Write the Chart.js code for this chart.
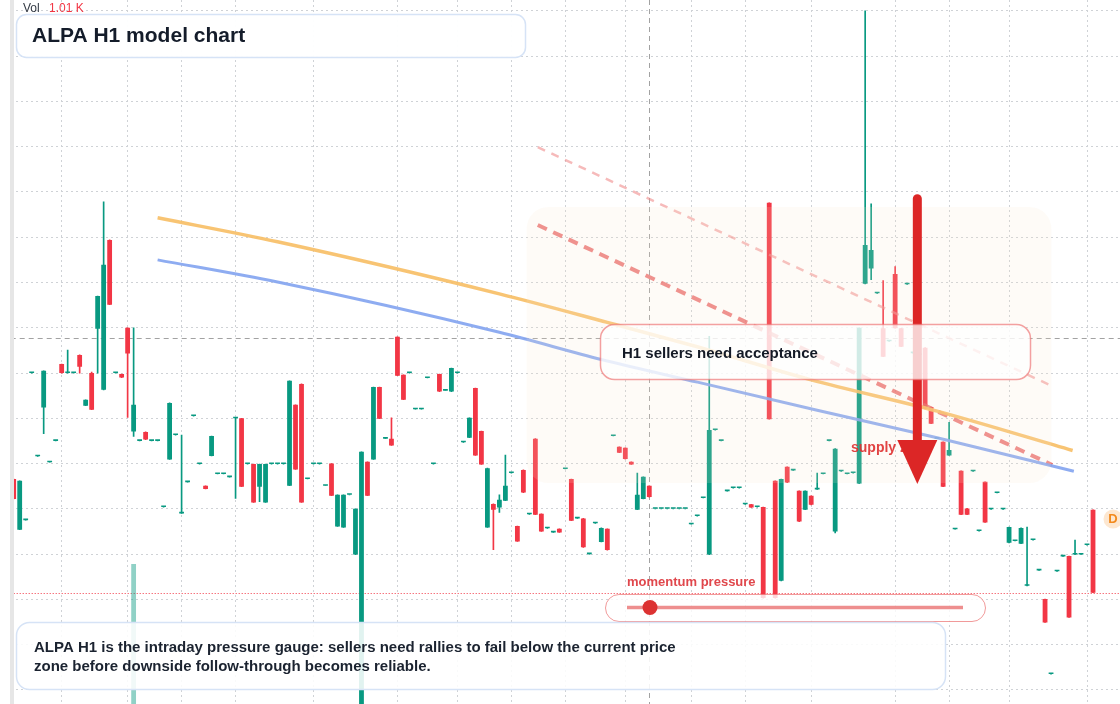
<!DOCTYPE html>
<html>
<head>
<meta charset="utf-8">
<title>ALPA H1 model chart</title>
<script src="https://cdn.jsdelivr.net/npm/chart.js@4.4.1/dist/chart.umd.min.js"></script>
<style>
  html, body { margin: 0; padding: 0; background: #ffffff; }
  #wrap { position: relative; width: 1120px; height: 704px; overflow: hidden; }
</style>
</head>
<body>
<div id="wrap"><canvas id="chart"></canvas></div>
<script>
// hourly bars, oldest first
const categories = Array.from({ length: 185 }, (_, i) => 'H' + (i + 1));

const opens = [
  104.66, 103.54, 103.75, 107.00, 105.16, 106.24, 105.03, 105.50, 107.20, 107.00,
  107.00, 107.40, 106.28, 107.00, 107.98, 106.63, 109.94, 107.00, 106.98, 108.00,
  105.71, 105.50, 105.70, 105.50, 105.50, 104.04, 105.09, 105.63, 103.90, 104.59,
  106.05, 104.99, 104.51, 105.17, 104.77, 104.77, 104.70, 106.00, 106.00, 104.99,
  104.99, 104.49, 104.14, 104.99, 104.99, 104.99, 104.51, 106.30, 106.76, 104.66,
  104.99, 104.99, 104.51, 105.00, 103.61, 103.59, 104.31, 102.99, 99.12, 105.04,
  105.09, 106.69, 105.55, 105.55, 107.80, 106.96, 107.00, 106.20, 106.20, 106.89,
  104.99, 106.98, 106.61, 106.59, 107.00, 105.47, 105.57, 106.67, 105.72, 103.59,
  104.11, 104.03, 104.18, 104.79, 103.62, 104.86, 103.88, 105.55, 103.89, 103.57,
  103.48, 103.56, 104.88, 104.66, 103.79, 103.79, 103.00, 103.68, 103.27, 103.56,
  105.61, 105.37, 105.35, 105.04, 103.98, 104.22, 104.51, 104.00, 104.00, 104.00,
  104.00, 104.00, 104.00, 103.66, 103.84, 104.24, 102.99, 105.74, 105.50, 104.39,
  104.46, 104.46, 104.10, 104.10, 104.04, 104.04, 110.76, 104.62, 102.41, 104.93,
  104.85, 104.40, 103.98, 104.29, 104.43, 104.77, 105.50, 103.50, 104.83, 104.77,
  104.79, 104.56, 108.97, 109.31, 108.76, 107.99, 107.70, 109.19, 107.99, 108.96,
  107.44, 107.40, 107.56, 106.25, 105.55, 105.48, 105.18, 103.55, 104.84, 104.01,
  104.83, 103.51, 104.60, 103.99, 104.35, 103.99, 103.25, 103.29, 103.23, 102.30,
  103.31, 102.64, 102.01, 100.35, 102.62, 102.95, 102.96, 102.99, 102.99, 103.20,
  103.98
];
const highs = [
  104.66, 104.62, 103.75, 107.00, 105.16, 107.05, 105.03, 105.50, 107.20, 107.51,
  107.00, 107.40, 106.41, 107.02, 108.70, 110.78, 109.94, 107.00, 106.98, 108.00,
  108.00, 105.50, 105.70, 105.50, 105.50, 104.04, 106.34, 105.63, 105.63, 104.59,
  106.05, 104.99, 104.51, 105.61, 104.77, 104.77, 104.70, 106.00, 106.00, 104.99,
  104.99, 104.99, 104.99, 104.99, 104.99, 104.99, 106.83, 106.30, 106.76, 104.66,
  104.99, 104.99, 104.51, 105.00, 104.31, 104.31, 104.31, 104.00, 105.26, 105.04,
  106.69, 106.69, 105.55, 106.01, 107.80, 106.96, 107.00, 106.20, 106.20, 106.89,
  104.99, 106.98, 106.61, 107.11, 107.00, 105.47, 106.01, 106.67, 105.72, 104.90,
  104.11, 104.31, 105.19, 104.79, 103.62, 104.86, 103.88, 105.55, 103.89, 103.57,
  103.48, 103.56, 104.88, 104.66, 103.79, 103.79, 103.00, 103.68, 103.58, 103.56,
  105.61, 105.37, 105.35, 105.04, 104.79, 104.71, 104.51, 104.00, 104.00, 104.00,
  104.00, 104.00, 104.00, 103.66, 103.84, 104.24, 107.81, 105.74, 105.50, 104.39,
  104.46, 104.46, 104.10, 104.10, 104.04, 104.04, 110.76, 104.62, 104.66, 104.93,
  104.85, 104.40, 104.40, 104.29, 104.79, 104.77, 105.50, 105.33, 104.83, 104.77,
  104.79, 108.00, 115.00, 110.74, 108.76, 109.04, 107.70, 109.35, 107.99, 108.96,
  107.44, 107.40, 107.56, 106.25, 105.55, 105.48, 105.91, 103.55, 104.84, 104.01,
  104.83, 103.51, 104.60, 103.99, 104.35, 103.99, 103.60, 103.29, 103.58, 103.60,
  103.31, 102.64, 102.01, 100.35, 102.62, 102.95, 102.96, 103.31, 102.99, 103.20,
  103.98
];
const lows = [
  104.22, 103.54, 103.75, 107.00, 105.16, 105.66, 105.03, 105.50, 107.00, 107.00,
  107.00, 107.00, 106.28, 106.19, 107.00, 106.63, 108.51, 107.00, 106.90, 106.02,
  105.60, 105.50, 105.53, 105.50, 105.50, 104.04, 105.09, 105.63, 103.90, 104.59,
  106.05, 104.99, 104.44, 105.17, 104.77, 104.77, 104.70, 104.23, 104.49, 104.99,
  104.14, 104.16, 104.14, 104.99, 104.99, 104.99, 104.51, 104.87, 104.14, 104.66,
  104.99, 104.99, 104.51, 104.29, 103.61, 103.59, 104.31, 102.99, 99.12, 104.29,
  105.09, 105.99, 105.55, 105.40, 106.94, 106.41, 107.00, 106.20, 106.20, 106.89,
  104.99, 106.59, 106.61, 106.59, 107.00, 105.47, 105.57, 105.18, 104.98, 103.59,
  103.10, 103.92, 104.18, 104.79, 103.28, 104.36, 103.88, 103.87, 103.50, 103.57,
  103.48, 103.48, 104.88, 103.74, 103.79, 103.15, 103.00, 103.68, 103.27, 103.09,
  105.61, 105.24, 105.10, 104.98, 103.98, 104.22, 104.26, 104.00, 104.00, 104.00,
  104.00, 104.00, 104.00, 103.66, 103.84, 104.24, 102.99, 105.74, 105.50, 104.39,
  104.46, 104.46, 104.10, 104.03, 104.04, 102.03, 105.98, 102.03, 102.41, 104.58,
  104.85, 103.72, 103.98, 104.09, 104.43, 104.77, 105.50, 103.47, 104.83, 104.77,
  104.79, 104.56, 108.97, 109.06, 108.76, 107.36, 107.70, 107.99, 107.58, 108.96,
  107.44, 107.40, 106.21, 105.88, 105.55, 104.49, 105.18, 103.55, 103.87, 103.87,
  104.83, 103.51, 103.70, 103.99, 104.35, 103.99, 103.25, 103.29, 103.23, 102.30,
  103.31, 102.64, 101.49, 100.35, 102.62, 102.95, 101.60, 102.99, 102.99, 103.20,
  102.15
];
const closes = [
  104.22, 104.62, 103.75, 107.00, 105.16, 107.05, 105.03, 105.50, 107.00, 107.00,
  107.00, 107.14, 106.41, 106.19, 108.70, 109.39, 108.51, 107.00, 106.90, 107.43,
  106.30, 105.50, 105.53, 105.50, 105.50, 104.04, 106.34, 105.63, 103.90, 104.59,
  106.05, 104.99, 104.44, 105.61, 104.77, 104.77, 104.70, 106.00, 104.49, 104.99,
  104.14, 104.99, 104.99, 104.99, 104.99, 104.99, 106.83, 104.87, 104.14, 104.66,
  104.99, 104.99, 104.51, 104.29, 104.31, 104.31, 104.31, 104.00, 105.26, 104.29,
  106.69, 105.99, 105.55, 105.40, 106.94, 106.41, 107.00, 106.20, 106.20, 106.89,
  104.99, 106.59, 106.61, 107.11, 107.00, 105.47, 106.01, 105.18, 104.98, 104.90,
  103.98, 104.20, 104.51, 104.79, 103.28, 104.36, 103.88, 103.87, 103.50, 103.57,
  103.48, 103.48, 104.88, 103.74, 103.79, 103.15, 103.00, 103.68, 103.58, 103.09,
  105.61, 105.24, 105.10, 104.98, 104.31, 104.71, 104.26, 104.00, 104.00, 104.00,
  104.00, 104.00, 104.00, 103.66, 103.84, 104.24, 105.74, 105.74, 105.50, 104.39,
  104.46, 104.46, 104.10, 104.03, 104.04, 102.03, 105.98, 102.03, 104.66, 104.58,
  104.85, 103.72, 104.40, 104.09, 104.43, 104.77, 105.50, 105.33, 104.83, 104.77,
  104.79, 108.00, 109.83, 109.72, 108.76, 107.36, 107.70, 107.99, 107.58, 108.96,
  107.44, 107.40, 106.21, 105.88, 105.55, 104.49, 105.30, 103.55, 103.87, 103.87,
  104.83, 103.51, 103.70, 103.99, 104.35, 103.99, 103.60, 103.29, 103.58, 102.30,
  103.31, 102.64, 101.49, 100.35, 102.62, 102.95, 101.60, 102.99, 102.99, 103.20,
  102.15
];

// the one volume bar that reaches into view (thousands)
const volumeBars = [20];
const volumeK = [19.9];

// model curves, read at bar positions
const orangeBars = [24, 44, 81, 99, 114, 133, 154, 176.6];
const orangeLine = [110.43, 109.90, 108.75, 108.12, 107.58, 106.85, 106.16, 105.29];
const blueBars = [24, 44, 81, 98, 114, 134, 154, 176.8];
const blueLine = [109.50, 109.01, 107.90, 107.30, 106.80, 106.18, 105.57, 104.83];
const sellBars = [87.4, 173.2];
const sellLine = [110.27, 104.97];
const sellFaintBars = [87.4, 173.05];
const sellFaintLine = [111.99, 106.72];

// supply zone and arrow (bars / prices)
const zoneBars = [85.55, 173.05];
const zonePrices = [104.57, 110.67];
const arrowBar = 150.7;
const arrowPrices = [110.94, 105.52, 104.55]; // shaft top, head base, tip

const crossBar = 106;
const crossPrice = 107.78;
const gridBars = [8, 19, 28, 37, 50, 64, 74, 83, 92, 102, 113, 122, 133, 147, 156, 166, 179];

const UP = '#089981';
const DOWN = '#f23645';
const FONT = '"Liberation Sans", Arial, sans-serif';

const candleColors = closes.map((c, i) => (c >= opens[i] ? UP : DOWN));
const toPoints = (xs, ys) => xs.map((x, i) => ({ x: x, y: ys[i] }));

function roundBox(ctx, x, y, w, h, r, fill, stroke, lw) {
  ctx.beginPath();
  ctx.roundRect(x, y, w, h, r);
  if (fill) { ctx.fillStyle = fill; ctx.fill(); }
  if (stroke) { ctx.lineWidth = lw || 1; ctx.strokeStyle = stroke; ctx.stroke(); }
}

const overlay = {
  id: 'overlay',
  beforeDatasetsDraw(chart) {
    const { ctx, chartArea: a, scales } = chart;
    ctx.save();
    ctx.lineWidth = 1;
    ctx.strokeStyle = '#a2a2a2';
    ctx.setLineDash([5, 4]);
    const cx = Math.round(scales.x.getPixelForValue(crossBar)) + 0.5;
    ctx.beginPath(); ctx.moveTo(cx, a.top); ctx.lineTo(cx, a.bottom); ctx.stroke();
    const cy = Math.round(scales.y.getPixelForValue(crossPrice)) + 0.5;
    ctx.beginPath(); ctx.moveTo(a.left, cy); ctx.lineTo(a.right, cy); ctx.stroke();
    // last price
    ctx.strokeStyle = DOWN;
    ctx.setLineDash([1, 2]);
    const py = Math.round(scales.y.getPixelForValue(closes[closes.length - 1])) + 0.5;
    ctx.beginPath(); ctx.moveTo(a.left, py); ctx.lineTo(a.right, py); ctx.stroke();
    ctx.restore();
  },
  afterDatasetsDraw(chart) {
    const { ctx, chartArea: a, scales } = chart;
    const xl = scales.xl, y = scales.y;
    ctx.save();

    // supply zone
    const zx0 = xl.getPixelForValue(zoneBars[0]);
    const zx1 = xl.getPixelForValue(zoneBars[1]);
    const zy0 = y.getPixelForValue(zonePrices[1]);
    const zy1 = y.getPixelForValue(zonePrices[0]);
    roundBox(ctx, zx0, zy0, zx1 - zx0, zy1 - zy0, 22, 'rgba(248, 228, 205, 0.16)');

    ctx.font = 'bold 14px ' + FONT;
    ctx.textBaseline = 'middle';
    ctx.fillStyle = 'rgba(222, 48, 48, 0.9)';
    ctx.fillText('supply zone', 851, 448);

    // arrow
    const ax = xl.getPixelForValue(arrowBar);
    const ay0 = y.getPixelForValue(arrowPrices[0]);
    const ay1 = y.getPixelForValue(arrowPrices[1]);
    const ay2 = y.getPixelForValue(arrowPrices[2]);
    ctx.strokeStyle = '#dc2626';
    ctx.lineCap = 'round';
    ctx.lineWidth = 9;
    ctx.beginPath(); ctx.moveTo(ax, ay0 + 4); ctx.lineTo(ax, ay1 + 2); ctx.stroke();
    ctx.lineCap = 'butt';
    ctx.fillStyle = '#dc2626';
    ctx.beginPath();
    ctx.moveTo(ax - 20, ay1); ctx.lineTo(ax + 20, ay1); ctx.lineTo(ax, ay2); ctx.closePath();
    ctx.fill();

    // H1 callout
    roundBox(ctx, 600.5, 324.5, 430, 55, 14, 'rgba(255,255,255,0.78)', 'rgba(236, 110, 110, 0.65)', 1.5);
    ctx.font = 'bold 15px ' + FONT;
    ctx.fillStyle = '#141a26';
    ctx.fillText('H1 sellers need acceptance', 622, 354);

    // momentum gauge
    ctx.font = 'bold 13px ' + FONT;
    ctx.fillStyle = '#e0474c';
    ctx.fillText('momentum pressure', 627, 582);
    roundBox(ctx, 605.5, 594.5, 380, 27, 13.5, 'rgba(255,255,255,0.8)', 'rgba(236, 120, 120, 0.75)', 1);
    ctx.strokeStyle = 'rgba(232, 100, 100, 0.72)';
    ctx.lineWidth = 3.5;
    ctx.beginPath(); ctx.moveTo(627, 607.5); ctx.lineTo(963, 607.5); ctx.stroke();
    ctx.fillStyle = '#dc3232';
    ctx.beginPath(); ctx.arc(650, 607.5, 7.5, 0, Math.PI * 2); ctx.fill();

    // note box
    roundBox(ctx, 16.5, 622.5, 929, 67, 13, 'rgba(255,255,255,0.88)', '#d6e3f6', 1.5);
    ctx.font = 'bold 15px ' + FONT;
    ctx.fillStyle = '#1b2330';
    ctx.fillText('ALPA H1 is the intraday pressure gauge: sellers need rallies to fail below the current price', 34, 648);
    ctx.fillText('zone before downside follow-through becomes reliable.', 34, 667);

    // title box
    roundBox(ctx, 16.5, 14.5, 509, 43, 10, 'rgba(255,255,255,0.96)', '#d6e3f6', 1.5);
    ctx.font = 'bold 21px ' + FONT;
    ctx.fillStyle = '#141c2a';
    ctx.fillText('ALPA H1 model chart', 32, 36.5);

    // volume legend
    ctx.font = '12px ' + FONT;
    ctx.fillStyle = '#333a44';
    ctx.fillText('Vol', 23, 8.5);
    ctx.fillStyle = DOWN;
    ctx.fillText('1.01 K', 49, 8.5);

    // dividend marker
    ctx.fillStyle = '#fde7d0';
    ctx.beginPath(); ctx.arc(1113, 519, 9.5, 0, Math.PI * 2); ctx.fill();
    ctx.fillStyle = '#f28a1e';
    ctx.font = 'bold 13px ' + FONT;
    ctx.textAlign = 'center';
    ctx.fillText('D', 1113, 519.5);
    ctx.textAlign = 'left';

    // left pane edge
    ctx.fillStyle = '#ffffff';
    ctx.fillRect(0, 0, 10, a.bottom);
    ctx.fillStyle = '#e6e6e6';
    ctx.fillRect(10, 0, 4, a.bottom);
    ctx.restore();
  }
};

const ctx = document.getElementById('chart').getContext('2d');
new Chart(ctx, {
  type: 'bar',
  data: {
    labels: categories,
    datasets: [
      {
        label: 'orange curve',
        type: 'line',
        xAxisID: 'xl',
        data: toPoints(orangeBars, orangeLine),
        borderColor: 'rgba(247, 190, 100, 0.9)',
        borderWidth: 3.5,
        pointRadius: 0,
        cubicInterpolationMode: 'monotone',
        order: 0
      },
      {
        label: 'blue curve',
        type: 'line',
        xAxisID: 'xl',
        data: toPoints(blueBars, blueLine),
        borderColor: 'rgba(130, 163, 240, 0.9)',
        borderWidth: 3,
        pointRadius: 0,
        cubicInterpolationMode: 'monotone',
        order: 0
      },
      {
        label: 'seller line',
        type: 'line',
        xAxisID: 'xl',
        data: toPoints(sellBars, sellLine),
        borderColor: 'rgba(232, 96, 96, 0.78)',
        borderWidth: 4,
        borderDash: [10, 7],
        pointRadius: 0,
        order: 0
      },
      {
        label: 'seller line faint',
        type: 'line',
        xAxisID: 'xl',
        data: toPoints(sellFaintBars, sellFaintLine),
        borderColor: 'rgba(240, 140, 140, 0.6)',
        borderWidth: 2.5,
        borderDash: [8, 7],
        pointRadius: 0,
        order: 0
      },
      {
        label: 'bodies',
        data: opens.map((o, i) => [o, closes[i]]),
        backgroundColor: candleColors,
        borderWidth: 0,
        grouped: false,
        barPercentage: 0.8,
        categoryPercentage: 1,
        minBarLength: 1.6,
        order: 1
      },
      {
        label: 'wicks',
        data: lows.map((l, i) => [l, highs[i]]),
        backgroundColor: candleColors,
        borderWidth: 0,
        grouped: false,
        barThickness: 1,
        order: 2
      },
      {
        label: 'volume',
        yAxisID: 'yv',
        data: volumeBars.map((b, i) => ({ x: categories[b], y: volumeK[i] })),
        backgroundColor: 'rgba(8, 153, 129, 0.45)',
        borderWidth: 0,
        grouped: false,
        barPercentage: 0.8,
        categoryPercentage: 1,
        order: 3
      }
    ]
  },
  options: {
    responsive: true,
    maintainAspectRatio: false,
    animation: false,
    layout: { padding: { left: 10.7, right: 0, top: 0, bottom: 0 } },
    plugins: {
      legend: { display: false },
      tooltip: { enabled: false }
    },
    scales: {
      x: {
        type: 'category',
        offset: true,
        ticks: { display: false, autoSkip: false },
        grid: {
          offset: false,
          drawTicks: false,
          lineWidth: 1,
          color: (c) => (gridBars.includes(c.index) ? '#cfd2d6' : 'rgba(0,0,0,0)')
        },
        border: { display: false, dash: [2, 3] }
      },
      xl: {
        type: 'linear',
        display: false,
        offset: false,
        grid: { offset: false },
        min: -0.5,
        max: 184.5
      },
      y: {
        min: 99.69,
        max: 115.24,
        ticks: { display: false, stepSize: 1, includeBounds: false },
        grid: { drawTicks: false, color: '#cfd2d6', lineWidth: 1 },
        border: { display: false, dash: [2, 3] }
      },
      yv: {
        display: false,
        min: 0,
        max: 100
      }
    }
  },
  plugins: [overlay]
});
</script>
</body>
</html>
